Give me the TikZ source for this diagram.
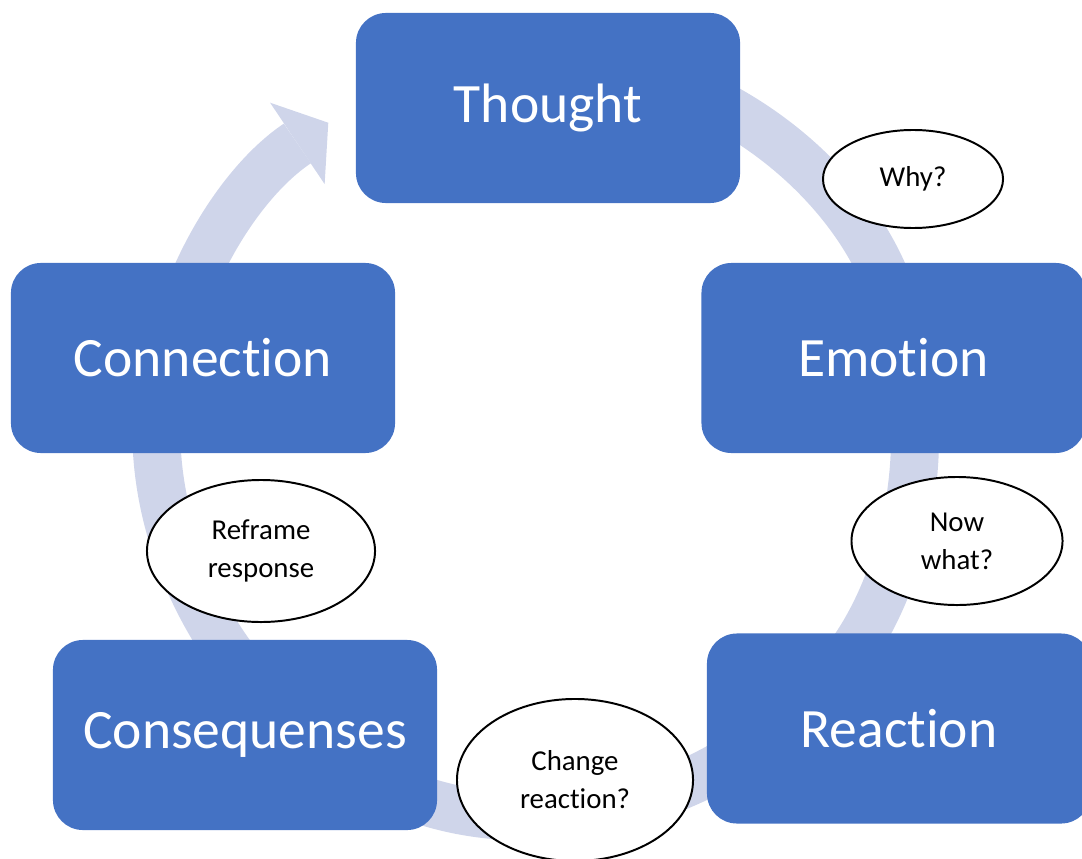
\documentclass[tikz,border=0pt]{standalone}
\usepackage{fontspec}
\setmainfont{Carlito}[Ligatures=NoCommon]
\usepackage{tikz}
\usetikzlibrary{positioning,shapes.geometric,arrows.meta}
\definecolor{boxblue}{RGB}{68,114,196}
\definecolor{ringblue}{RGB}{207,213,234}

\begin{document}
\begin{tikzpicture}[x=0.025cm, y=0.025cm,
	stage/.style={fill=boxblue, rounded corners=0.75cm, minimum width=9.6cm, minimum height=4.75cm, text=white, font=\fontsize{39.5}{47}\selectfont},
	query/.style={ellipse, draw=black, line width=1.4pt, fill=white, inner sep=0pt, align=center, font=\fontsize{20.5}{27}\selectfont},
	flow/.style={draw=ringblue, line width=1.2cm, -{Triangle[width=2.45cm, length=0.93cm, line width=0pt]}}]
	\useasboundingbox (0,0) rectangle (1082,858);
	\clip (0,0) rectangle (1082,858);
	% Ring and its start points
	\coordinate (ring) at (538,422);
	\coordinate (th-out) at ([shift={(80:377)}]ring);
	\coordinate (em-out) at ([shift={(5:377)}]ring);
	\coordinate (re-out) at ([shift={(-50:377)}]ring);
	\coordinate (cs-out) at ([shift={(225:377)}]ring);
	\coordinate (cn-out) at ([shift={(170:377)}]ring);
	% Connect the stages
	\draw[flow] (th-out) arc[start angle=80, end angle=12, radius=377];
	\draw[flow] (em-out) arc[start angle=5, end angle=-46, radius=377];
	\draw[flow] (re-out) arc[start angle=-50, end angle=-124, radius=377];
	\draw[flow] (cs-out) arc[start angle=225, end angle=160, radius=377];
	\draw[flow] (cn-out) arc[start angle=170, end angle=123.8, radius=377];
	% Define nodes
	\node[stage] at (548,750)   (thought) {Thought};
	\node[stage] at (893.5,500) (emotion) {Emotion};
	\node[stage] at (899,129.5) (reaction) {Reaction};
	\node[stage] at (245,123)   (conseq) {Consequenses};
	\node[stage] at (203,500)   (connect) {Connection};
	% Questions
	\node[query, minimum width=4.5cm, minimum height=2.45cm] at (913,679) (why) {Why?};
	\node[query, minimum width=5.275cm, minimum height=3.2cm] at (957,317) (nowwhat) {Now\\what?};
	\node[query, minimum width=5.9cm, minimum height=4.05cm] at (575,78) (change) {Change\\reaction?};
	\node[query, minimum width=5.7cm, minimum height=3.55cm] at (261,307) (reframe) {Reframe\\response};
\end{tikzpicture}
\end{document}
